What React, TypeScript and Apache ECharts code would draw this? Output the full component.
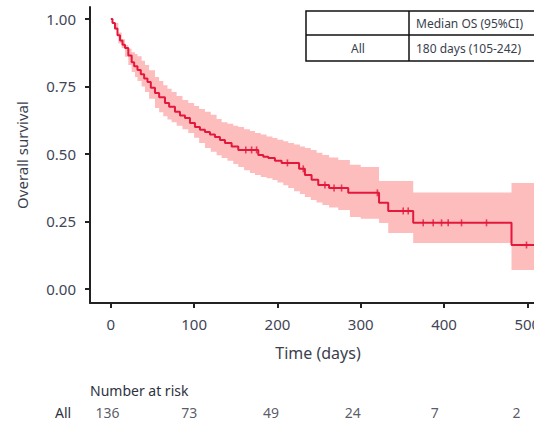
import React, { useEffect, useRef } from 'react';
import * as echarts from 'echarts';

// Kaplan-Meier estimate (days, survival probability)
const kmTimes = [0, 2, 5, 8, 11, 14, 17, 21, 25, 28, 32, 36, 40, 44, 48, 53, 58, 65, 70, 77, 83, 89, 95, 101, 107, 113, 119, 125, 131, 137, 145, 153, 177, 183, 189, 197, 205, 226, 233, 241, 249, 262, 285, 322, 333, 363, 481];
const kmSurv = [1.0, 0.985, 0.965, 0.94, 0.92, 0.905, 0.893, 0.865, 0.84, 0.825, 0.811, 0.795, 0.78, 0.767, 0.745, 0.726, 0.71, 0.689, 0.675, 0.656, 0.643, 0.633, 0.615, 0.6, 0.59, 0.581, 0.572, 0.563, 0.552, 0.541, 0.528, 0.515, 0.496, 0.49, 0.485, 0.475, 0.467, 0.445, 0.422, 0.405, 0.385, 0.374, 0.356, 0.319, 0.289, 0.245, 0.163];
const followUpEnd = 508;

// Censored observations (days)
const censorTimes = [162, 169, 175, 212, 231, 257, 268, 277, 320, 351, 357, 375, 387, 397, 405, 421, 451, 499];

// 95% confidence band
const bandTimes = [0, 4, 9, 13, 17, 21, 25, 29, 32, 37, 41, 46, 53, 58, 63, 68, 73, 79, 86, 93, 100, 106, 113, 120, 127, 133, 140, 147, 153, 160, 167, 173, 180, 187, 194, 200, 207, 213, 220, 227, 233, 240, 247, 254, 262, 273, 287, 300, 322, 333, 345, 363, 481, 508];
const bandUpper = [1.0, 0.985, 0.95, 0.925, 0.904, 0.89, 0.877, 0.87, 0.862, 0.845, 0.83, 0.81, 0.785, 0.77, 0.755, 0.742, 0.73, 0.715, 0.7, 0.689, 0.678, 0.667, 0.656, 0.645, 0.63, 0.618, 0.612, 0.605, 0.6, 0.592, 0.585, 0.578, 0.572, 0.565, 0.559, 0.553, 0.547, 0.541, 0.535, 0.528, 0.522, 0.515, 0.505, 0.496, 0.487, 0.478, 0.46, 0.452, 0.4, 0.4, 0.4, 0.357, 0.393, 0.393];
const bandLower = [1.0, 0.96, 0.91, 0.893, 0.86, 0.83, 0.804, 0.785, 0.77, 0.75, 0.73, 0.705, 0.67, 0.655, 0.64, 0.628, 0.618, 0.605, 0.592, 0.578, 0.56, 0.541, 0.522, 0.508, 0.495, 0.485, 0.475, 0.463, 0.452, 0.44, 0.43, 0.422, 0.415, 0.41, 0.404, 0.394, 0.384, 0.374, 0.362, 0.352, 0.341, 0.33, 0.32, 0.311, 0.302, 0.293, 0.267, 0.26, 0.244, 0.207, 0.207, 0.17, 0.07, 0.07];

const xTicks = [0, 100, 200, 300, 400, 500];
const yTicks = [0, 0.25, 0.5, 0.75, 1.0];

const riskTimes = [0, 100, 200, 300, 400, 500];
const riskCounts = [136, 73, 49, 24, 7, 2];

const RED = '#e3183c';
const BAND = '#fdbdbd';
const FONT = 'Noto Sans';

function survAt(t: number): number {
  let s = 1;
  for (let i = 0; i < kmTimes.length; i++) {
    if (kmTimes[i] <= t) s = kmSurv[i];
  }
  return s;
}

export default function App() {
  const ref = useRef<HTMLDivElement>(null);
  useEffect(() => {
    if (!ref.current) return;
    const chart = echarts.init(ref.current, undefined, { renderer: 'svg' });
    const lineData = kmTimes.map((t, i) => [t, kmSurv[i]]);
    lineData.push([followUpEnd, kmSurv[kmSurv.length - 1]]);

    const renderBand = (_params: any, api: any) => {
      const pts: number[][] = [];
      const n = bandTimes.length;
      for (let i = 0; i < n; i++) {
        pts.push(api.coord([bandTimes[i], bandUpper[i]]));
        if (i < n - 1) pts.push(api.coord([bandTimes[i + 1], bandUpper[i]]));
      }
      for (let i = n - 1; i >= 0; i--) {
        if (i < n - 1) pts.push(api.coord([bandTimes[i + 1], bandLower[i]]));
        pts.push(api.coord([bandTimes[i], bandLower[i]]));
      }
      return {
        type: 'polygon',
        shape: { points: pts },
        style: { fill: BAND, stroke: 'none' },
      };
    };

    const option: any = {
      animation: false,
      backgroundColor: '#ffffff',
      grid: [
        { left: 90, top: 7, width: 444, height: 296, outerBoundsMode: 'none', containLabel: false },
        { left: 87, top: 400, width: 436, height: 24, outerBoundsMode: 'none', containLabel: false },
      ],
      xAxis: [
        {
          type: 'value',
          gridIndex: 0,
          min: -25,
          max: 508,
          name: 'Time (days)',
          nameLocation: 'middle',
          nameGap: 42,
          nameTextStyle: { fontFamily: FONT, fontSize: 16, color: '#3a3f4e', padding: [0, 0, 0, 12] },
          axisLine: { onZero: false, lineStyle: { color: '#222', width: 2 } },
          axisTick: { show: true, customValues: xTicks, length: 5, lineStyle: { color: '#222', width: 2 } },
          axisLabel: { customValues: xTicks, margin: 13, fontFamily: FONT, fontSize: 15, color: '#3f4556' },
          splitLine: { show: false },
        },
        { type: 'value', gridIndex: 1, min: -25, max: 508, show: false },
      ],
      yAxis: [
        {
          type: 'value',
          gridIndex: 0,
          min: -0.0519,
          max: 1.0444,
          name: 'Overall survival',
          nameLocation: 'middle',
          nameGap: 61,
          nameTextStyle: { fontFamily: FONT, fontSize: 15, color: '#3a3f4e' },
          axisLine: { onZero: false, lineStyle: { color: '#222', width: 2 } },
          axisTick: { show: true, customValues: yTicks, length: 5, lineStyle: { color: '#222', width: 2 } },
          axisLabel: {
            customValues: yTicks,
            margin: 14,
            fontFamily: FONT,
            fontSize: 15,
            color: '#3f4556',
            formatter: (v: number) => v.toFixed(2),
          },
          splitLine: { show: false },
        },
        { type: 'value', gridIndex: 1, min: 0, max: 1, show: false },
      ],
      series: [
        {
          name: '95% CI',
          type: 'custom',
          xAxisIndex: 0,
          yAxisIndex: 0,
          renderItem: renderBand,
          data: [[bandTimes[0], bandUpper[0]]],
          z: 1,
          silent: true,
        },
        {
          name: 'All',
          type: 'line',
          xAxisIndex: 0,
          yAxisIndex: 0,
          step: 'end',
          symbol: 'none',
          lineStyle: { color: RED, width: 2 },
          data: lineData,
          z: 3,
        },
        {
          name: 'Censored',
          type: 'scatter',
          xAxisIndex: 0,
          yAxisIndex: 0,
          symbol: 'rect',
          symbolSize: [1.6, 7],
          itemStyle: { color: RED },
          data: censorTimes.map((t) => [t, survAt(t)]),
          z: 4,
        },
        {
          name: 'Number at risk',
          type: 'scatter',
          xAxisIndex: 1,
          yAxisIndex: 1,
          symbolSize: 0,
          itemStyle: { color: 'rgba(0,0,0,0)' },
          label: {
            show: true,
            position: 'inside',
            formatter: (p: any) => String(p.value[2]),
            fontFamily: FONT,
            fontSize: 14,
            color: '#2e3240',
          },
          data: riskTimes.map((t, i) => [t, 0.5, riskCounts[i]]),
        },
      ],
      graphic: [
        { type: 'rect', z: 100, shape: { x: 306, y: 11, width: 240, height: 50 }, style: { fill: '#fff', stroke: '#111', lineWidth: 1.5 } },
        { type: 'line', z: 101, shape: { x1: 306, y1: 35, x2: 546, y2: 35 }, style: { stroke: '#111', lineWidth: 1.5 } },
        { type: 'line', z: 101, shape: { x1: 409, y1: 11, x2: 409, y2: 61 }, style: { stroke: '#111', lineWidth: 1.5 } },
        { type: 'text', z: 102, x: 416, y: 23, style: { text: 'Median OS (95%CI)', font: `12px "${FONT}"`, fill: '#3a3f4e', textVerticalAlign: 'middle' } },
        { type: 'text', z: 102, x: 358, y: 48, style: { text: 'All', font: `12px "${FONT}"`, fill: '#3a3f4e', textAlign: 'center', textVerticalAlign: 'middle' } },
        { type: 'text', z: 102, x: 416, y: 48, style: { text: '180 days (105-242)', font: `12px "${FONT}"`, fill: '#3a3f4e', textVerticalAlign: 'middle' } },
        { type: 'text', z: 102, x: 90, y: 390, style: { text: 'Number at risk', font: `14px "${FONT}"`, fill: '#2e3240', textVerticalAlign: 'middle' } },
        { type: 'text', z: 102, x: 55, y: 412, style: { text: 'All', font: `14px "${FONT}"`, fill: '#2e3240', textVerticalAlign: 'middle' } },
      ],
    };
    chart.setOption(option);
    return () => chart.dispose();
  }, []);
  return (
    <div
      ref={ref}
      style={{ position: 'fixed', left: 0, top: 0, width: 534, height: 421, background: '#fff' }}
    />
  );
}
